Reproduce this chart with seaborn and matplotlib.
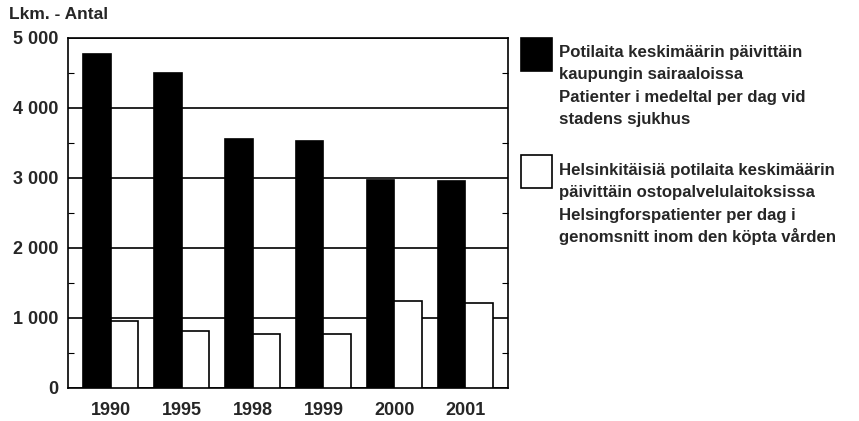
import matplotlib
matplotlib.use("Agg")
import matplotlib.pyplot as plt
from matplotlib.patches import Rectangle
from matplotlib.ticker import MultipleLocator, FuncFormatter
import seaborn as sns
import pandas as pd

years = ["1990", "1995", "1998", "1999", "2000", "2001"]
city_hospitals = [4770, 4500, 3560, 3530, 2970, 2950]
purchased_care = [960, 820, 770, 765, 1250, 1220]
series_names = ["city", "purchased"]
series_colors = ["#000000", "#ffffff"]
legend_labels = [
    ["Potilaita keskimäärin päivittäin", "kaupungin sairaaloissa",
     "Patienter i medeltal per dag vid", "stadens sjukhus"],
    ["Helsinkitäisiä potilaita keskimäärin", "päivittäin ostopalvelulaitoksissa",
     "Helsingforspatienter per dag i", "genomsnitt inom den köpta vården"],
]
y_label = "Lkm. - Antal"

df = pd.DataFrame({
    "year": years * 2,
    "value": city_hospitals + purchased_care,
    "series": [series_names[0]] * len(years) + [series_names[1]] * len(years),
})

sns.set_style("white")
plt.rcParams["font.family"] = ["Liberation Sans", "DejaVu Sans"]

fig = plt.figure(figsize=(8.59, 4.21), dpi=100)
ax = fig.add_axes([68 / 859, 1 - 388 / 421, 440 / 859, 350 / 421])

sns.barplot(data=df, x="year", y="value", hue="series", order=years,
            hue_order=series_names, palette=series_colors, edgecolor="black",
            linewidth=1.2, width=0.78, legend=False, ax=ax, zorder=3)

ax.set_xlim(-0.6, 5.6)
ax.set_ylim(0, 5000)
ax.set_axisbelow(True)
ax.yaxis.set_major_locator(MultipleLocator(1000))
ax.yaxis.set_minor_locator(MultipleLocator(500))
ax.yaxis.set_major_formatter(FuncFormatter(lambda v, p: f"{int(v):,}".replace(",", " ")))
ax.grid(axis="y", which="major", color="black", linewidth=1.2, zorder=0)
ax.grid(axis="x", visible=False)
ax.tick_params(axis="y", which="major", length=0, pad=7, labelsize=13)
ax.tick_params(axis="y", which="minor", direction="in", length=4, width=0.8,
               left=True, right=True, color="black")
ax.tick_params(axis="x", length=0, pad=10, labelsize=13)
for lab in ax.get_xticklabels() + ax.get_yticklabels():
    lab.set_fontweight("bold")
ax.set_xlabel("")
ax.set_ylabel("")
for sp in ax.spines.values():
    sp.set_visible(True)
    sp.set_color("black")
    sp.set_linewidth(1.2)

fig.text(9 / 859, 1 - 7 / 421, y_label, ha="left", va="top",
         fontsize=12.5, fontweight="bold")

# legend drawn manually
box_tops = [38, 155]
first_baselines = [57, 175]
line_step = 22.3
for color, lines, top, base in zip(series_colors, legend_labels, box_tops, first_baselines):
    fig.patches.append(Rectangle((521 / 859, 1 - (top + 33) / 421), 31 / 859, 33 / 421,
                                 transform=fig.transFigure, facecolor=color,
                                 edgecolor="black", linewidth=1.2))
    for i, line in enumerate(lines):
        fig.text(559 / 859, 1 - (base + i * line_step) / 421, line, ha="left",
                 va="baseline", fontsize=12.1, fontweight="bold")

fig.savefig("out.png", dpi=100)
